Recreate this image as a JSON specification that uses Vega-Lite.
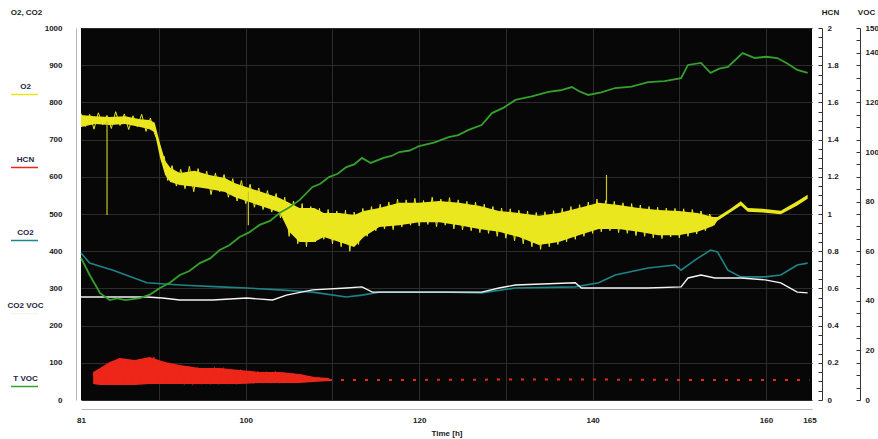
{
  "$schema": "https://vega.github.io/schema/vega-lite/v6.json",
  "width": 731,
  "height": 372,
  "autosize": "none",
  "padding": {"left": 81, "top": 28, "right": 66, "bottom": 39},
  "background": "white",
  "view": {"fill": "#070707", "stroke": null},
  "config": {
    "font": "Liberation Sans",
    "axis": {"labelFontSize": 8, "labelFontWeight": "bold", "labelColor": "#1a1a1a", "titleFontSize": 8, "titleFontWeight": "bold", "titleColor": "#1a1a1a"}
  },
  "datasets": {
    "o2": [
      {"t": 81.0, "lo": 734, "hi": 766}, {"t": 82.6, "lo": 742, "hi": 763}, {"t": 84.3, "lo": 739, "hi": 761},
      {"t": 86.1, "lo": 742, "hi": 763}, {"t": 87.8, "lo": 734, "hi": 755}, {"t": 88.9, "lo": 728, "hi": 753},
      {"t": 89.5, "lo": 720, "hi": 745}, {"t": 90.1, "lo": 653, "hi": 691}, {"t": 90.7, "lo": 605, "hi": 643},
      {"t": 91.3, "lo": 586, "hi": 624}, {"t": 92.4, "lo": 578, "hi": 610}, {"t": 94.1, "lo": 573, "hi": 616},
      {"t": 95.8, "lo": 567, "hi": 605}, {"t": 97.6, "lo": 559, "hi": 597}, {"t": 98.7, "lo": 546, "hi": 583},
      {"t": 100.4, "lo": 532, "hi": 570}, {"t": 102.1, "lo": 519, "hi": 557}, {"t": 103.9, "lo": 505, "hi": 543},
      {"t": 105.0, "lo": 452, "hi": 530}, {"t": 106.2, "lo": 425, "hi": 516}, {"t": 107.9, "lo": 425, "hi": 516},
      {"t": 109.0, "lo": 438, "hi": 503}, {"t": 110.8, "lo": 425, "hi": 503}, {"t": 112.5, "lo": 411, "hi": 497},
      {"t": 113.6, "lo": 438, "hi": 508}, {"t": 115.4, "lo": 465, "hi": 516}, {"t": 117.7, "lo": 470, "hi": 530},
      {"t": 120.0, "lo": 478, "hi": 530}, {"t": 122.3, "lo": 478, "hi": 535}, {"t": 124.6, "lo": 470, "hi": 530},
      {"t": 126.9, "lo": 460, "hi": 522}, {"t": 129.2, "lo": 452, "hi": 508}, {"t": 131.5, "lo": 438, "hi": 503},
      {"t": 133.8, "lo": 417, "hi": 495}, {"t": 136.1, "lo": 425, "hi": 503}, {"t": 138.4, "lo": 443, "hi": 516},
      {"t": 140.7, "lo": 460, "hi": 530}, {"t": 143.0, "lo": 460, "hi": 524}, {"t": 145.3, "lo": 452, "hi": 516},
      {"t": 147.6, "lo": 443, "hi": 511}, {"t": 149.9, "lo": 443, "hi": 508}, {"t": 152.1, "lo": 452, "hi": 503},
      {"t": 153.9, "lo": 468, "hi": 492}, {"t": 154.4, "lo": 482, "hi": 492}, {"t": 155.9, "lo": 505, "hi": 514},
      {"t": 157.1, "lo": 523, "hi": 534}, {"t": 157.9, "lo": 506, "hi": 516}, {"t": 159.6, "lo": 504, "hi": 514},
      {"t": 161.7, "lo": 499, "hi": 509}, {"t": 163.6, "lo": 523, "hi": 534}, {"t": 164.8, "lo": 541, "hi": 552}
    ],
    "o2noise": [
      {"t": 81.0, "v": 770}, {"t": 81.5, "v": 735}, {"t": 82.0, "v": 768}, {"t": 82.5, "v": 728}, {"t": 83.0, "v": 772},
      {"t": 83.5, "v": 740}, {"t": 84.0, "v": 765}, {"t": 84.5, "v": 730}, {"t": 85.0, "v": 775}, {"t": 85.5, "v": 738},
      {"t": 86.0, "v": 769}, {"t": 86.5, "v": 727}, {"t": 87.0, "v": 764}, {"t": 87.5, "v": 735}, {"t": 88.0, "v": 768},
      {"t": 88.5, "v": 722}, {"t": 89.0, "v": 758}, {"t": 89.5, "v": 715}, {"t": 90.0, "v": 690}, {"t": 90.3, "v": 640},
      {"t": 90.6, "v": 655}, {"t": 91.0, "v": 590}, {"t": 91.5, "v": 630}, {"t": 92.0, "v": 575}, {"t": 92.5, "v": 620},
      {"t": 93.0, "v": 568}, {"t": 93.5, "v": 628}, {"t": 94.0, "v": 560}, {"t": 94.5, "v": 622}, {"t": 95.0, "v": 570},
      {"t": 95.5, "v": 615}, {"t": 96.0, "v": 552}, {"t": 96.5, "v": 610}, {"t": 97.0, "v": 560}, {"t": 97.5, "v": 606},
      {"t": 98.0, "v": 545}, {"t": 98.5, "v": 595}, {"t": 99.0, "v": 535}, {"t": 99.5, "v": 590}, {"t": 100.0, "v": 528},
      {"t": 100.5, "v": 580}, {"t": 101.0, "v": 518}, {"t": 101.5, "v": 570}, {"t": 102.0, "v": 512}, {"t": 102.5, "v": 563},
      {"t": 103.0, "v": 505}, {"t": 103.5, "v": 555}, {"t": 104.0, "v": 490}, {"t": 104.5, "v": 545}, {"t": 105.0, "v": 440},
      {"t": 105.5, "v": 535}, {"t": 106.0, "v": 420}, {"t": 106.5, "v": 528}, {"t": 107.0, "v": 412}, {"t": 107.5, "v": 520},
      {"t": 108.0, "v": 425}, {"t": 108.5, "v": 515}, {"t": 109.0, "v": 432}, {"t": 109.5, "v": 512}, {"t": 110.0, "v": 420},
      {"t": 110.5, "v": 508}, {"t": 111.0, "v": 412}, {"t": 111.5, "v": 510}, {"t": 112.0, "v": 400}, {"t": 112.5, "v": 505},
      {"t": 113.0, "v": 418}, {"t": 113.5, "v": 515}, {"t": 114.0, "v": 440}, {"t": 114.5, "v": 520}, {"t": 115.0, "v": 455},
      {"t": 115.5, "v": 526}, {"t": 116.0, "v": 460}, {"t": 116.5, "v": 532}, {"t": 117.0, "v": 458}, {"t": 117.5, "v": 540},
      {"t": 118.0, "v": 465}, {"t": 118.5, "v": 538}, {"t": 119.0, "v": 470}, {"t": 119.5, "v": 542}, {"t": 120.0, "v": 468},
      {"t": 120.5, "v": 536}, {"t": 121.0, "v": 472}, {"t": 121.5, "v": 545}, {"t": 122.0, "v": 466}, {"t": 122.5, "v": 540},
      {"t": 123.0, "v": 470}, {"t": 123.5, "v": 544}, {"t": 124.0, "v": 460}, {"t": 124.5, "v": 538}, {"t": 125.0, "v": 458},
      {"t": 125.5, "v": 534}, {"t": 126.0, "v": 455}, {"t": 126.5, "v": 532}, {"t": 127.0, "v": 450}, {"t": 127.5, "v": 526},
      {"t": 128.0, "v": 448}, {"t": 128.5, "v": 520}, {"t": 129.0, "v": 440}, {"t": 129.5, "v": 516}, {"t": 130.0, "v": 435},
      {"t": 130.5, "v": 514}, {"t": 131.0, "v": 428}, {"t": 131.5, "v": 510}, {"t": 132.0, "v": 420}, {"t": 132.5, "v": 508},
      {"t": 133.0, "v": 412}, {"t": 133.5, "v": 504}, {"t": 134.0, "v": 405}, {"t": 134.5, "v": 506}, {"t": 135.0, "v": 412},
      {"t": 135.5, "v": 509}, {"t": 136.0, "v": 418}, {"t": 136.5, "v": 515}, {"t": 137.0, "v": 425}, {"t": 137.5, "v": 520},
      {"t": 138.0, "v": 432}, {"t": 138.5, "v": 525}, {"t": 139.0, "v": 440}, {"t": 139.5, "v": 532}, {"t": 140.0, "v": 448},
      {"t": 140.5, "v": 540}, {"t": 141.0, "v": 452}, {"t": 141.5, "v": 536}, {"t": 142.0, "v": 455}, {"t": 142.5, "v": 534},
      {"t": 143.0, "v": 450}, {"t": 143.5, "v": 530}, {"t": 144.0, "v": 448}, {"t": 144.5, "v": 528}, {"t": 145.0, "v": 442},
      {"t": 145.5, "v": 524}, {"t": 146.0, "v": 440}, {"t": 146.5, "v": 520}, {"t": 147.0, "v": 436}, {"t": 147.5, "v": 518},
      {"t": 148.0, "v": 434}, {"t": 148.5, "v": 516}, {"t": 149.0, "v": 438}, {"t": 149.5, "v": 515}, {"t": 150.0, "v": 436},
      {"t": 150.5, "v": 514}, {"t": 151.0, "v": 440}, {"t": 151.5, "v": 512}, {"t": 152.0, "v": 446}, {"t": 152.5, "v": 508},
      {"t": 153.0, "v": 455}, {"t": 153.5, "v": 500}, {"t": 154.0, "v": 470}, {"t": 154.4, "v": 488}
    ],
    "o2spikes": [
      {"t": 84.0, "lo": 497, "hi": 750}, {"t": 100.3, "lo": 470, "hi": 560}, {"t": 141.6, "lo": 530, "hi": 605}
    ],
    "hcn": [
      {"t": 82.4, "lo": 0.086, "hi": 0.151}, {"t": 83.2, "lo": 0.081, "hi": 0.172}, {"t": 84.3, "lo": 0.081, "hi": 0.204},
      {"t": 85.5, "lo": 0.081, "hi": 0.226}, {"t": 87.2, "lo": 0.081, "hi": 0.215}, {"t": 88.9, "lo": 0.086, "hi": 0.231},
      {"t": 90.7, "lo": 0.086, "hi": 0.204}, {"t": 92.4, "lo": 0.086, "hi": 0.188}, {"t": 94.7, "lo": 0.086, "hi": 0.172},
      {"t": 97.0, "lo": 0.086, "hi": 0.172}, {"t": 99.3, "lo": 0.086, "hi": 0.161}, {"t": 101.6, "lo": 0.091, "hi": 0.151},
      {"t": 103.9, "lo": 0.091, "hi": 0.151}, {"t": 106.2, "lo": 0.091, "hi": 0.140}, {"t": 107.9, "lo": 0.097, "hi": 0.124},
      {"t": 109.6, "lo": 0.102, "hi": 0.118}
    ],
    "hcnnoise": [
      {"t": 82.4, "v": 0.14}, {"t": 82.9, "v": 0.09}, {"t": 83.4, "v": 0.17}, {"t": 83.9, "v": 0.085}, {"t": 84.4, "v": 0.2},
      {"t": 84.9, "v": 0.09}, {"t": 85.4, "v": 0.225}, {"t": 85.9, "v": 0.085}, {"t": 86.4, "v": 0.21}, {"t": 86.9, "v": 0.09},
      {"t": 87.4, "v": 0.2}, {"t": 87.9, "v": 0.085}, {"t": 88.4, "v": 0.22}, {"t": 88.9, "v": 0.09}, {"t": 89.4, "v": 0.23},
      {"t": 89.9, "v": 0.09}, {"t": 90.4, "v": 0.2}, {"t": 90.9, "v": 0.088}, {"t": 91.4, "v": 0.19}, {"t": 91.9, "v": 0.09},
      {"t": 92.4, "v": 0.185}, {"t": 92.9, "v": 0.09}, {"t": 93.4, "v": 0.175}, {"t": 93.9, "v": 0.088}, {"t": 94.4, "v": 0.17},
      {"t": 94.9, "v": 0.09}, {"t": 95.4, "v": 0.165}, {"t": 95.9, "v": 0.09}, {"t": 96.4, "v": 0.17}, {"t": 96.9, "v": 0.09},
      {"t": 97.4, "v": 0.168}, {"t": 97.9, "v": 0.092}, {"t": 98.4, "v": 0.16}, {"t": 98.9, "v": 0.09}, {"t": 99.4, "v": 0.158},
      {"t": 99.9, "v": 0.094}, {"t": 100.4, "v": 0.152}, {"t": 100.9, "v": 0.094}, {"t": 101.4, "v": 0.15}, {"t": 101.9, "v": 0.095},
      {"t": 102.4, "v": 0.148}, {"t": 102.9, "v": 0.096}, {"t": 103.4, "v": 0.15}, {"t": 103.9, "v": 0.095}, {"t": 104.4, "v": 0.145},
      {"t": 104.9, "v": 0.098}, {"t": 105.4, "v": 0.14}, {"t": 105.9, "v": 0.1}, {"t": 106.4, "v": 0.135}, {"t": 106.9, "v": 0.1},
      {"t": 107.4, "v": 0.125}, {"t": 107.9, "v": 0.102}, {"t": 108.4, "v": 0.12}, {"t": 108.9, "v": 0.104}, {"t": 109.4, "v": 0.118}
    ],
    "hcntail": [
      {"t": 109.6, "v": 0.108}, {"t": 120.0, "v": 0.108}, {"t": 130.0, "v": 0.110}, {"t": 140.0, "v": 0.110},
      {"t": 150.0, "v": 0.108}, {"t": 165.0, "v": 0.108}
    ],
    "co2": [
      {"t": 81.0, "v": 395}, {"t": 82.0, "v": 368}, {"t": 84.7, "v": 349}, {"t": 88.6, "v": 315}, {"t": 92.4, "v": 309},
      {"t": 97.0, "v": 304}, {"t": 100.1, "v": 301}, {"t": 103.9, "v": 296}, {"t": 107.7, "v": 290}, {"t": 111.6, "v": 277},
      {"t": 113.4, "v": 282}, {"t": 115.4, "v": 290}, {"t": 119.2, "v": 290}, {"t": 123.4, "v": 290}, {"t": 127.2, "v": 288},
      {"t": 131.1, "v": 301}, {"t": 138.0, "v": 304}, {"t": 140.7, "v": 315}, {"t": 142.6, "v": 336}, {"t": 146.4, "v": 355},
      {"t": 149.5, "v": 363}, {"t": 150.2, "v": 349}, {"t": 151.8, "v": 376}, {"t": 153.6, "v": 403}, {"t": 154.4, "v": 398},
      {"t": 155.6, "v": 349}, {"t": 157.1, "v": 331}, {"t": 159.9, "v": 331}, {"t": 161.7, "v": 336}, {"t": 163.6, "v": 363},
      {"t": 164.8, "v": 368}
    ],
    "co2voc": [
      {"t": 81.0, "v": 277}, {"t": 88.6, "v": 277}, {"t": 90.4, "v": 274}, {"t": 92.4, "v": 269}, {"t": 96.2, "v": 269},
      {"t": 100.1, "v": 274}, {"t": 103.1, "v": 269}, {"t": 104.7, "v": 282}, {"t": 107.7, "v": 296}, {"t": 111.6, "v": 301},
      {"t": 113.4, "v": 304}, {"t": 114.6, "v": 290}, {"t": 119.2, "v": 290}, {"t": 123.4, "v": 290}, {"t": 127.2, "v": 290},
      {"t": 129.2, "v": 301}, {"t": 131.1, "v": 309}, {"t": 138.0, "v": 315}, {"t": 138.7, "v": 301}, {"t": 142.6, "v": 301},
      {"t": 146.4, "v": 301}, {"t": 150.2, "v": 304}, {"t": 151.0, "v": 328}, {"t": 152.5, "v": 336}, {"t": 154.1, "v": 328},
      {"t": 157.1, "v": 328}, {"t": 159.9, "v": 323}, {"t": 161.7, "v": 315}, {"t": 163.6, "v": 290}, {"t": 164.8, "v": 288}
    ],
    "tvoc": [
      {"t": 81.0, "v": 57.3}, {"t": 82.0, "v": 50.4}, {"t": 83.2, "v": 43.1}, {"t": 84.3, "v": 40.3}, {"t": 85.2, "v": 41.0},
      {"t": 86.1, "v": 40.3}, {"t": 87.8, "v": 41.1}, {"t": 89.0, "v": 42.6}, {"t": 90.1, "v": 45.2}, {"t": 91.2, "v": 47.2},
      {"t": 92.4, "v": 50.4}, {"t": 93.5, "v": 52.0}, {"t": 94.7, "v": 55.2}, {"t": 95.9, "v": 57.1}, {"t": 97.0, "v": 60.5},
      {"t": 98.1, "v": 62.4}, {"t": 99.3, "v": 65.7}, {"t": 100.4, "v": 67.6}, {"t": 101.6, "v": 70.6}, {"t": 102.8, "v": 72.2},
      {"t": 103.9, "v": 75.4}, {"t": 105.0, "v": 77.6}, {"t": 106.2, "v": 80.6}, {"t": 107.7, "v": 85.9}, {"t": 108.6, "v": 87.2},
      {"t": 109.6, "v": 89.9}, {"t": 110.6, "v": 91.2}, {"t": 111.6, "v": 93.9}, {"t": 112.5, "v": 95.0}, {"t": 113.4, "v": 97.6},
      {"t": 114.4, "v": 95.6}, {"t": 115.9, "v": 97.6}, {"t": 116.8, "v": 98.4}, {"t": 117.7, "v": 100.0}, {"t": 118.9, "v": 100.6},
      {"t": 120.0, "v": 102.4}, {"t": 121.7, "v": 103.8}, {"t": 123.4, "v": 106.0}, {"t": 124.5, "v": 106.8}, {"t": 125.7, "v": 108.9},
      {"t": 127.2, "v": 110.9}, {"t": 128.4, "v": 115.7}, {"t": 129.8, "v": 118.0}, {"t": 131.1, "v": 121.0}, {"t": 133.0, "v": 122.4},
      {"t": 134.9, "v": 124.2}, {"t": 136.3, "v": 124.9}, {"t": 137.6, "v": 126.2}, {"t": 138.5, "v": 124.4}, {"t": 139.5, "v": 123.0},
      {"t": 141.0, "v": 124.0}, {"t": 142.6, "v": 125.8}, {"t": 144.5, "v": 126.4}, {"t": 146.4, "v": 128.2}, {"t": 148.3, "v": 128.6},
      {"t": 150.2, "v": 129.8}, {"t": 151.0, "v": 135.1}, {"t": 152.5, "v": 135.9}, {"t": 153.6, "v": 131.9}, {"t": 154.6, "v": 133.6},
      {"t": 155.6, "v": 134.3}, {"t": 157.3, "v": 139.9}, {"t": 158.7, "v": 137.9}, {"t": 160.0, "v": 138.4}, {"t": 161.3, "v": 137.9},
      {"t": 162.5, "v": 135.6}, {"t": 163.6, "v": 133.1}, {"t": 164.8, "v": 131.9}
    ]
  },
  "layer": [
    {
      "data": {"name": "o2"},
      "mark": {"type": "area", "color": "#ebe71e"},
      "encoding": {
        "x": {"field": "t", "type": "quantitative", "scale": {"domain": [81, 165.3], "nice": false},
          "axis": {"orient": "bottom", "values": [81, 90, 100, 110, 120, 130, 140, 150, 160, 165],
            "labelExpr": "indexof([81, 100, 120, 140, 160, 165], datum.value) >= 0 ? datum.label : ''",
            "format": "d", "grid": true, "gridColor": "#2c2c2c",
            "gridOpacity": {"condition": {"test": "datum.value == 81 || datum.value == 165", "value": 0}, "value": 1},
            "ticks": false, "offset": 9, "domainColor": "#b8b8b8", "labelPadding": 7, "labelOverlap": false, "labelFlush": false,
            "title": "Time [h]", "titlePadding": 5}},
        "y": {"field": "lo", "type": "quantitative", "scale": {"domain": [0, 1000], "nice": false},
          "axis": {"orient": "left", "values": [0, 100, 200, 300, 400, 500, 600, 700, 800, 900, 1000], "format": "d",
            "grid": true, "gridColor": "#2c2c2c", "ticks": false, "offset": 5, "domainColor": "#b8b8b8", "labelPadding": 14,
            "title": "O2, CO2", "titleAngle": 0, "titleX": -50, "titleY": -16, "titleAlign": "center", "titleBaseline": "middle"}},
        "y2": {"field": "hi"}
      }
    },
    {
      "data": {"name": "o2noise"},
      "mark": {"type": "line", "color": "#ebe71e", "strokeWidth": 1},
      "encoding": {
        "x": {"field": "t", "type": "quantitative"},
        "y": {"field": "v", "type": "quantitative", "scale": {"domain": [0, 1000], "nice": false}, "axis": null}
      }
    },
    {
      "data": {"name": "o2spikes"},
      "mark": {"type": "rule", "color": "#c9c41c", "strokeWidth": 1.2},
      "encoding": {
        "x": {"field": "t", "type": "quantitative"},
        "y": {"field": "lo", "type": "quantitative", "scale": {"domain": [0, 1000], "nice": false}, "axis": null},
        "y2": {"field": "hi"}
      }
    },
    {
      "data": {"name": "hcn"},
      "mark": {"type": "area", "color": "#ec2618"},
      "encoding": {
        "x": {"field": "t", "type": "quantitative"},
        "y": {"field": "lo", "type": "quantitative", "scale": {"domain": [0, 2], "nice": false},
          "axis": {"orient": "right", "offset": 10,
            "values": [0, 0.05, 0.1, 0.15, 0.2, 0.25, 0.3, 0.35, 0.4, 0.45, 0.5, 0.55, 0.6, 0.65, 0.7, 0.75, 0.8, 0.85, 0.9, 0.95, 1, 1.05, 1.1, 1.15, 1.2, 1.25, 1.3, 1.35, 1.4, 1.45, 1.5, 1.55, 1.6, 1.65, 1.7, 1.75, 1.8, 1.85, 1.9, 1.95, 2],
            "labelExpr": "abs(datum.value*5 - round(datum.value*5)) < 0.001 ? format(datum.value, '~g') : ''",
            "labelOverlap": false, "labelFlush": false, "ticks": true, "tickSize": -4, "tickWidth": 1,
            "labelPadding": 9, "tickColor": "#333333", "domainColor": "#333333", "grid": false,
            "title": "HCN", "titleAngle": 0, "titleX": 8, "titleY": -16, "titleAlign": "center", "titleBaseline": "middle"}},
        "y2": {"field": "hi"}
      }
    },
    {
      "data": {"name": "hcnnoise"},
      "mark": {"type": "line", "color": "#ec2618", "strokeWidth": 1.2},
      "encoding": {
        "x": {"field": "t", "type": "quantitative"},
        "y": {"field": "v", "type": "quantitative", "scale": {"domain": [0, 2], "nice": false}, "axis": null}
      }
    },
    {
      "data": {"name": "hcntail"},
      "mark": {"type": "line", "color": "#e8281e", "strokeWidth": 2, "strokeDash": [3, 9]},
      "encoding": {
        "x": {"field": "t", "type": "quantitative"},
        "y": {"field": "v", "type": "quantitative", "scale": {"domain": [0, 2], "nice": false}, "axis": null}
      }
    },
    {
      "data": {"name": "co2"},
      "mark": {"type": "line", "strokeWidth": 1.6},
      "encoding": {
        "x": {"field": "t", "type": "quantitative"},
        "y": {"field": "v", "type": "quantitative", "scale": {"domain": [0, 1000], "nice": false}, "axis": null},
        "color": {"datum": "CO2", "type": "nominal",
          "scale": {"domain": ["O2", "HCN", "CO2", "CO2 VOC", "T VOC"], "range": ["#e9e51c", "#e8281e", "#1e8486", "#f4f4f4", "#35a02c"]},
          "legend": {"orient": "none", "legendX": -71, "legendY": 52, "title": null, "symbolType": "stroke", "symbolSize": 729,
            "symbolStrokeWidth": 1.5, "labelAlign": "center", "labelOffset": -13.5, "labelBaseline": "bottom", "rowPadding": 55,
            "labelFontSize": 8, "labelFontWeight": "bold", "labelColor": "#1c2340", "labelFont": "Liberation Sans",
            "encode": {"labels": {"update": {"dy": {"value": -4}}}}}}
      }
    },
    {
      "data": {"name": "co2voc"},
      "mark": {"type": "line", "strokeWidth": 1.4},
      "encoding": {
        "x": {"field": "t", "type": "quantitative"},
        "y": {"field": "v", "type": "quantitative", "scale": {"domain": [0, 1000], "nice": false}, "axis": null},
        "color": {"datum": "CO2 VOC", "type": "nominal"}
      }
    },
    {
      "data": {"name": "tvoc"},
      "mark": {"type": "line", "strokeWidth": 1.8},
      "encoding": {
        "x": {"field": "t", "type": "quantitative"},
        "y": {"field": "v", "type": "quantitative", "scale": {"domain": [0, 150], "nice": false},
          "axis": {"orient": "right", "offset": 48,
            "values": [0, 5, 10, 15, 20, 25, 30, 35, 40, 45, 50, 55, 60, 65, 70, 75, 80, 85, 90, 95, 100, 105, 110, 115, 120, 125, 130, 135, 140, 145, 150],
            "labelExpr": "(datum.value % 20 == 0 || datum.value == 150) ? datum.label : ''",
            "labelOverlap": false, "labelFlush": false, "ticks": true, "tickSize": -4, "tickWidth": 1,
            "labelPadding": 9, "tickColor": "#333333", "domainColor": "#333333", "grid": false,
            "title": "VOC", "titleAngle": 0, "titleX": 6, "titleY": -16, "titleAlign": "center", "titleBaseline": "middle"}},
        "color": {"datum": "T VOC", "type": "nominal"}
      }
    }
  ],
  "resolve": {"scale": {"y": "independent"}}
}
